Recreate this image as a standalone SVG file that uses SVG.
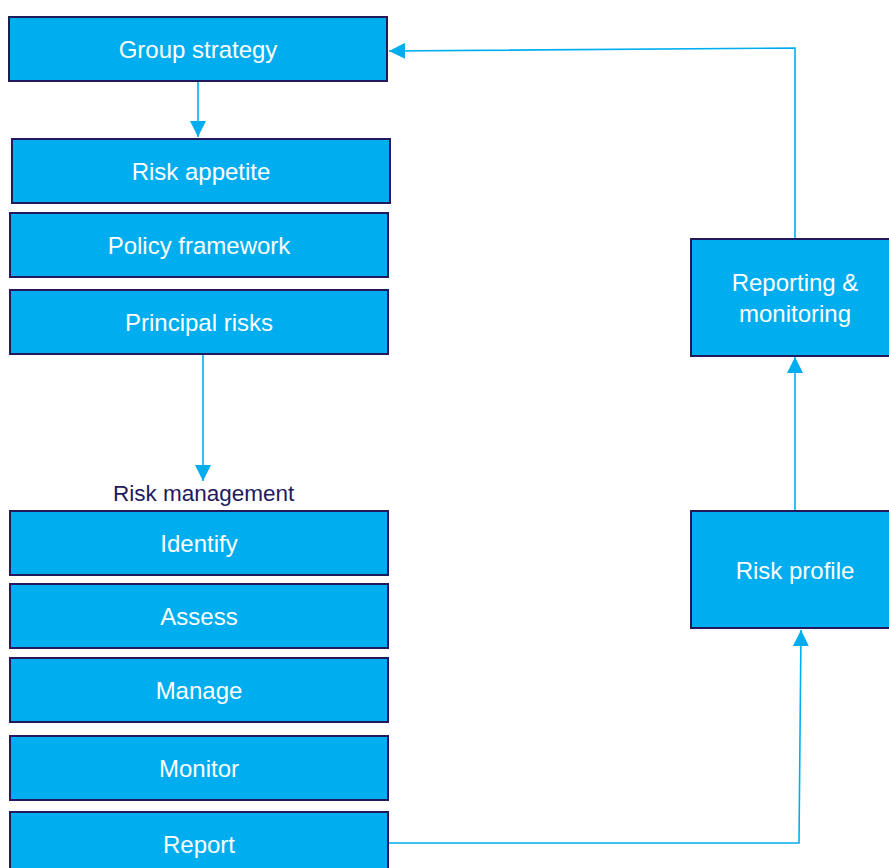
<svg xmlns="http://www.w3.org/2000/svg" width="889" height="868" viewBox="0 0 889 868">
<defs>
<style>
.box{fill:#00AEEF;stroke:#221a5c;stroke-width:2}
.lbl{font-family:"Liberation Sans",Arial,sans-serif;font-size:24px;fill:#ffffff;text-anchor:middle}
.head{font-family:"Liberation Sans",Arial,sans-serif;font-size:22.5px;fill:#221a5c}
.conn{fill:none;stroke:#00AEEF;stroke-width:1.6}
</style>
<marker id="ah" viewBox="0 0 10 10" refX="10" refY="5" markerWidth="16" markerHeight="16" markerUnits="userSpaceOnUse" orient="auto">
<path d="M0,0 L10,5 L0,10 Z" fill="#00AEEF"/>
</marker>
</defs>
<rect width="889" height="868" fill="#ffffff"/>
<g id="connectors">
<path class="conn" d="M198,82 L198,137" marker-end="url(#ah)"/>
<path class="conn" d="M203,355 L203,481" marker-end="url(#ah)"/>
<path class="conn" d="M389,843 L799,843 L801,630" marker-end="url(#ah)"/>
<path class="conn" d="M795,510 L795,357" marker-end="url(#ah)"/>
<path class="conn" d="M795,238 L795,48 L389,51" marker-end="url(#ah)"/>
</g>
<g id="group-strategy"><rect class="box" x="9" y="17" width="378" height="64"/><text class="lbl" x="198" y="58">Group strategy</text></g>
<g id="risk-appetite"><rect class="box" x="12" y="139" width="378" height="64"/><text class="lbl" x="201" y="180">Risk appetite</text></g>
<g id="policy-framework"><rect class="box" x="10" y="213" width="378" height="64"/><text class="lbl" x="199" y="254">Policy framework</text></g>
<g id="principal-risks"><rect class="box" x="10" y="290" width="378" height="64"/><text class="lbl" x="199" y="331">Principal risks</text></g>
<g id="risk-management"><text class="head" x="113" y="501">Risk management</text></g>
<g id="identify"><rect class="box" x="10" y="511" width="378" height="64"/><text class="lbl" x="199" y="552">Identify</text></g>
<g id="assess"><rect class="box" x="10" y="584" width="378" height="64"/><text class="lbl" x="199" y="625">Assess</text></g>
<g id="manage"><rect class="box" x="10" y="658" width="378" height="64"/><text class="lbl" x="199" y="699">Manage</text></g>
<g id="monitor"><rect class="box" x="10" y="736" width="378" height="64"/><text class="lbl" x="199" y="777">Monitor</text></g>
<g id="report"><rect class="box" x="10" y="812" width="378" height="64"/><text class="lbl" x="199" y="853">Report</text></g>
<g id="reporting-monitoring"><rect class="box" x="691" y="239" width="210" height="117"/><text class="lbl" x="795" y="291">Reporting &amp;</text><text class="lbl" x="795" y="322">monitoring</text></g>
<g id="risk-profile"><rect class="box" x="691" y="511" width="210" height="117"/><text class="lbl" x="795" y="579">Risk profile</text></g>
</svg>
